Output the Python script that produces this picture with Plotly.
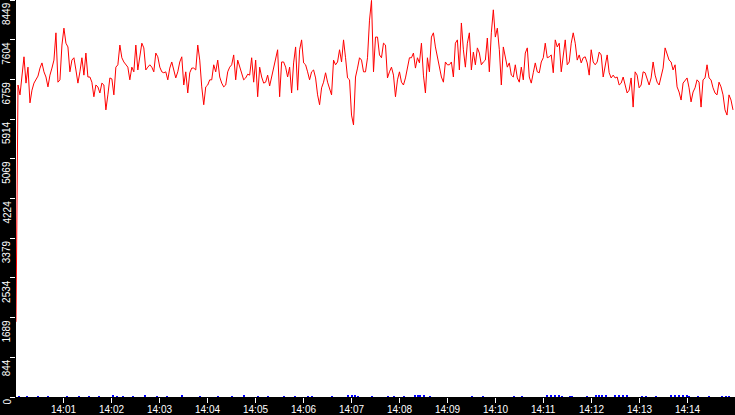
import pandas as pd
import plotly.graph_objects as go

# red series: one reading every 2.5 s from 14:00:00
rate = [
    1600, 6640, 6430, 6870, 7240, 6680, 7020, 6260, 6530, 6680,
    6770, 6830, 7000, 7110, 6920, 6810, 6600, 6850, 7000, 7170,
    7750, 6700, 6750, 7490, 7850, 7530, 7450, 6920, 7170, 7220,
    6960, 6680, 6920, 7220, 6850, 7320, 6810, 6810, 6700, 6390,
    6640, 6600, 6470, 6680, 6640, 6110, 6430, 6790, 6770, 6430,
    7020, 7070, 7490, 7220, 7130, 7070, 7020, 6750, 7020, 6920,
    7490, 6960, 7220, 7530, 7430, 6960, 7020, 7070, 7020, 6920,
    7320, 7240, 7020, 6920, 6900, 6920, 6750, 7000, 7130, 6920,
    6790, 6920, 7130, 7240, 6640, 6920, 6470, 6900, 7000, 7000,
    6960, 7490, 7170,
    6600, 6220, 6600, 6640, 6750, 6750, 7070, 6920, 7170, 6810,
    6680, 6600, 6640, 6920, 7020, 7070, 7280, 6750, 7170, 7020,
    6920, 6750, 6790, 6870, 6850, 7220, 6700, 7170, 6390, 7020,
    6810, 6680, 6700, 6850, 6620, 6810, 7070, 7220, 7390, 6390,
    7130, 7130, 7020, 6810, 7020, 6470, 7110, 7450, 6530, 7390,
    7600, 7110, 7070, 6920, 6750, 6920, 6960, 6790, 6430, 6220,
    6580, 6700, 6900, 6700, 6580, 6430, 7170, 7070, 7130, 7390,
    7130, 7600, 7220, 6790, 6750, 6000, 5790, 6810, 7000, 7220,
    7170, 6920, 6920, 7220, 8020, 8440, 6920, 7660, 7660, 7280,
    7220, 7530, 7490, 6790, 6920, 7020, 6850, 6390, 6750, 6920,
    6700, 6640, 6790, 7020, 7220, 7220, 7320, 7000, 7220, 7110,
    7530, 6850, 6470, 7220, 6920, 7660, 7750, 7450, 7220, 7000,
    6810, 6700, 7130, 7070, 7070, 7130, 6810, 7530, 7600, 6960,
    7960, 7390, 7020, 7530, 7750, 6960, 7340, 7070, 7430, 7320,
    7070, 7130, 7170, 7640, 6920, 7750, 8240, 7660, 7850, 7390,
    6640, 7450, 7220, 7020, 7110, 6850, 6810, 7070, 6790, 6700,
    7020, 6750, 7320, 7430, 6810, 6680, 6900, 7110, 6920, 6900,
    7130, 7220, 7530, 7220,
    7240, 7280, 6900, 7600, 7450, 7530, 6920, 7220, 7600, 7070,
    7130, 7530, 7750, 7530, 7170, 7280, 7110, 7220, 7240, 7110,
    6850, 7390, 7130, 7070, 7130, 7340, 7280, 6810, 7070, 7280,
    6900, 6790, 6850, 6790, 6810, 6640, 6680, 6810, 6640, 6470,
    6530, 6790, 6170, 6920, 6850, 6580, 6640, 6920, 6900, 6750,
    6640, 6790, 7130, 6850, 6700, 6640, 6810, 7000, 7430, 7280,
    7170, 7130, 6960, 7070, 6600, 6490, 6320, 6680, 6750, 6790,
    6580, 6280, 6490, 6580, 6750, 6700, 6170, 6750, 6790, 7070,
    6790, 6750, 6580, 6470, 6430, 6700, 6600, 6430, 6110, 6000,
    6430, 6320, 6110,
]

# blue series: sparse small values (seconds after 14:00:00, value)
blue_sec = [
    4, 14, 28, 40, 64, 79, 91, 104, 121, 126, 134, 146, 161, 176, 189,
    208, 230, 253, 271, 286, 303, 315, 336, 349, 365, 370, 395, 415, 420,
    424, 428, 446, 466, 473, 486, 499, 503, 506, 511, 518, 571, 584, 624,
    633, 665, 670, 675, 680, 684, 693, 696, 715, 726, 730, 734, 739, 750,
    755, 760, 765, 783, 789, 801, 820, 825, 830, 835, 840, 843, 854, 868,
    884, 889, 893,
]
blue_val = [
    20, 15, 20, 15, 20, 20, 15, 20, 25, 20, 20, 20, 45, 20, 20,
    25, 20, 20, 20, 30, 20, 15, 20, 20, 20, 20, 20, 25, 25,
    25, 20, 20, 20, 20, 20, 25, 25, 25, 25, 20, 20, 20, 20,
    20, 25, 25, 25, 25, 20, 20, 20, 20, 25, 25, 25, 25, 25,
    25, 25, 25, 20, 20, 20, 25, 25, 25, 25, 25, 20, 20, 20,
    20, 20, 20,
]

x_labels = ["14:01", "14:02", "14:03", "14:04", "14:05", "14:06", "14:07",
            "14:08", "14:09", "14:10", "14:11", "14:12", "14:13", "14:14"]
y_ticks = [0, 844.9, 1689.8, 2534.7, 3379.6, 4224.5, 5069.4, 5914.3,
           6759.2, 7604.1, 8449]
y_labels = ["0", "844", "1689", "2534", "3379", "4224", "5069", "5914",
            "6759", "7604", "8449"]

day = "2024-01-01 "
start = pd.Timestamp(day + "14:00:00")
t_red = pd.date_range(start, periods=len(rate), freq="2500ms")
t_blue = start + pd.to_timedelta(blue_sec, unit="s")
t_ticks = [pd.Timestamp(day + s) for s in x_labels]

fig = go.Figure()
fig.add_trace(go.Bar(
    x=t_blue, y=blue_val, width=1300,
    marker=dict(color="#0000ff", line=dict(width=0)),
    showlegend=False, hoverinfo="skip"
))
fig.add_trace(go.Scatter(
    x=t_red, y=rate, mode="lines",
    line=dict(color="#ff0000", width=1),
    showlegend=False
))

font = dict(family="Liberation Sans", size=10, color="white")

fig.update_layout(
    width=735, height=415,
    margin=dict(l=16, r=0, t=0, b=18),
    paper_bgcolor="black",
    plot_bgcolor="white",
    barmode="overlay",
    font=font,
    xaxis=dict(
        range=[start, pd.Timestamp(day + "14:15:00")],
        tickvals=t_ticks,
        showticklabels=False,
        ticks="outside", ticklen=5, tickcolor="white", tickwidth=1,
        showgrid=False, zeroline=False, showline=False,
    ),
    yaxis=dict(
        range=[0, 8449],
        tickvals=y_ticks,
        showticklabels=False,
        ticks="outside", ticklen=5, tickcolor="white", tickwidth=1,
        showgrid=False, zeroline=False, showline=False,
    ),
)

# tick labels drawn as annotations to sit inside the thin black bands
for v, lab in zip(y_ticks, y_labels):
    fig.add_annotation(
        x=0, xref="paper", xshift=-9.5, xanchor="center",
        y=v, yref="y", yanchor="top",
        text=lab, textangle=-90, showarrow=False, font=font,
    )

for t, lab in zip(t_ticks, x_labels):
    fig.add_annotation(
        x=t, xref="x", xanchor="center",
        y=0, yref="paper", yanchor="middle", yshift=-12,
        text=lab, showarrow=False, font=font,
    )

# drop the default page margin so the chart fills the window
fig.write_html("out.html",
               config={"displayModeBar": False},
               post_script="document.body.style.margin='0';")
